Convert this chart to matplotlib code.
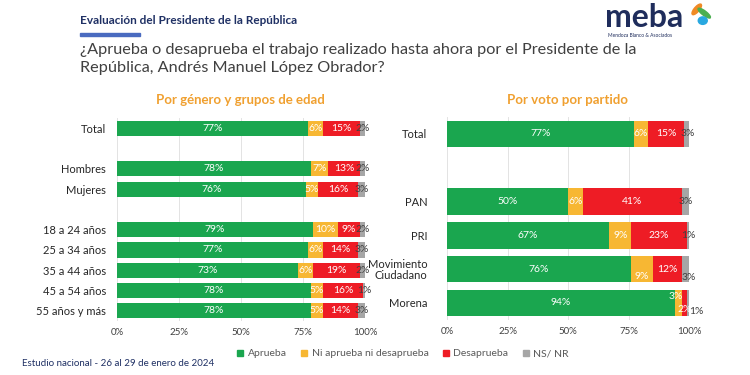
import numpy as np
import matplotlib.pyplot as plt
from matplotlib.patches import Rectangle, Ellipse

plt.rcParams['font.family'] = ['Lato', 'DejaVu Sans']

# ---- data ----
left_labels = ["Total", "", "Hombres", "Mujeres", "", "18 a 24 años", "25 a 34 años",
               "35 a 44 años", "45 a 54 años", "55 años y más"]
left_aprueba = [77, None, 78, 76, None, 79, 77, 73, 78, 78]
left_ni = [6, None, 7, 5, None, 10, 6, 6, 5, 5]
left_desaprueba = [15, None, 13, 16, None, 9, 14, 19, 16, 14]
left_nsnr = [2, None, 2, 3, None, 2, 3, 2, 1, 3]

right_labels = ["Total", "", "PAN", "PRI", "Movimiento\nCiudadano", "Morena"]
right_aprueba = [77, None, 50, 67, 76, 94]
right_ni = [6, None, 6, 9, 9, 3]
right_desaprueba = [15, None, 41, 23, 12, 2]
right_nsnr = [3, None, 3, 1, 3, 1]

series_names = ["Aprueba", "Ni aprueba ni desaprueba", "Desaprueba", "NS/ NR"]
colors = ["#1aa64f", "#f7b733", "#ee1c25", "#a6a6a6"]
text_colors = ["white", "white", "white", "#404040"]
ticks = [0, 25, 50, 75, 100]

# label nudges (points) for crowded segments: (row, series) -> (dx, dy)
left_nudge = {}
right_nudge = {(4, 1): (0, -5), (4, 3): (2, -6),
               (5, 1): (-2, 5), (5, 2): (0, -5), (5, 3): (6, -6)}

fig = plt.figure(figsize=(7.5, 3.75), dpi=100)
fig.patch.set_facecolor("white")


def draw_panel(ax, labels, series, height, nudge, fs):
    n = len(labels)
    y = np.arange(n)
    left = np.zeros(n)
    for k, vals in enumerate(series):
        v = np.array([0 if x is None else x for x in vals], dtype=float)
        ax.barh(y, v, left=left, height=height, color=colors[k], zorder=3)
        for i in range(n):
            if vals[i] is None:
                continue
            dx, dy = nudge.get((i, k), (0, 0))
            ax.annotate(f"{vals[i]}%", (left[i] + v[i] / 2, y[i]),
                        xytext=(dx, dy), textcoords="offset points",
                        ha="center", va="center", fontsize=fs,
                        color=text_colors[k], zorder=4)
        left += v
    ax.set_xlim(0, 100)
    ax.set_ylim(n - 0.5, -0.5)
    ax.set_yticks(y)
    ax.set_yticklabels(labels, fontsize=8, color="#262626", linespacing=1.0)
    ax.set_xticks(ticks)
    ax.set_xticklabels([f"{t}%" for t in ticks], fontsize=7, color="#404040")
    ax.tick_params(length=0, pad=5)
    ax.grid(axis="x", color="#e3e3e3", linewidth=0.7, zorder=0)
    for s in ax.spines.values():
        s.set_visible(False)


ax1 = fig.add_axes([0.156, 0.144, 0.331, 0.541])
draw_panel(ax1, left_labels,
           [left_aprueba, left_ni, left_desaprueba, left_nsnr], 0.75, left_nudge, 7.5)
ax1.tick_params(axis="y", pad=8)

ax2 = fig.add_axes([0.596, 0.147, 0.323, 0.541])
draw_panel(ax2, right_labels,
           [right_aprueba, right_ni, right_desaprueba, right_nsnr], 0.78, right_nudge, 7.5)
ax2.tick_params(axis="y", pad=14)

# subtitles
fig.text(0.32, 0.733, "Por género y grupos de edad", ha="center", va="center",
         fontsize=9.5, fontweight="bold", color="#f0a030")
fig.text(0.757, 0.733, "Por voto por partido", ha="center", va="center",
         fontsize=9.5, fontweight="bold", color="#f0a030")

# header
fig.text(0.107, 0.945, "Evaluación del Presidente de la República", ha="left", va="center",
         fontsize=8.5, fontweight="bold", color="#1f3064")
fig.patches.append(Rectangle((0.107, 0.905), 0.08, 0.008, transform=fig.transFigure,
                             color="#4a6bc0", figure=fig))
fig.text(0.107, 0.866, "¿Aprueba o desaprueba el trabajo realizado hasta ahora por el Presidente de la",
         ha="left", va="center", fontsize=11.7, color="#404040")
fig.text(0.107, 0.818, "República, Andrés Manuel López Obrador?",
         ha="left", va="center", fontsize=11.7, color="#404040")

# logo
fig.text(0.807, 0.953, "meba", ha="left", va="center", fontsize=23,
         fontweight="bold", color="#1f2d5c")
fig.text(0.81, 0.905, "Mendoza Blanco & Asociados", ha="left", va="center",
         fontsize=3.5, color="#1f2d5c")
for (cx, cy, w, h, ang, c) in [(0.929, 0.975, 0.008, 0.03, -20, "#f08a24"),
                               (0.939, 0.965, 0.008, 0.03, 30, "#4caf50"),
                               (0.937, 0.945, 0.012, 0.02, 0, "#29a8e0")]:
    fig.patches.append(Ellipse((cx, cy), w, h, angle=ang, transform=fig.transFigure,
                               color=c, figure=fig))

# legend
handles = [plt.Line2D([], [], marker="s", linestyle="none", markersize=4,
                      color=c) for c in colors]
fig.legend(handles, series_names, loc="center", bbox_to_anchor=(0.536, 0.057), ncol=4,
           frameon=False, fontsize=7.5, handletextpad=0.2, columnspacing=1.2,
           handlelength=1.0, labelcolor="#595959")

fig.text(0.03, 0.032, "Estudio nacional - 26 al 29 de enero de 2024", ha="left", va="center",
         fontsize=7, color="#1f3064")

fig.savefig("out.png", dpi=100)
